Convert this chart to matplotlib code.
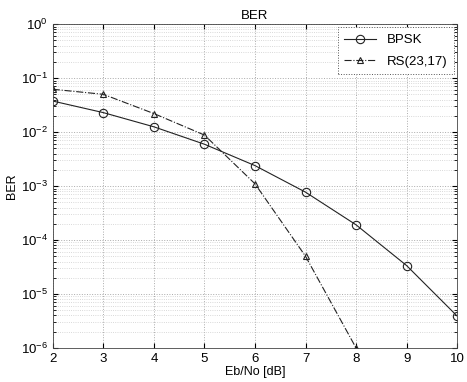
import numpy as np
import matplotlib; matplotlib.use("Agg")
import matplotlib.pyplot as plt
from matplotlib.ticker import NullFormatter
matplotlib.rcParams.update({"font.family":"sans-serif","font.sans-serif":["Liberation Sans","Arial","DejaVu Sans"],"font.size":9})

# values
ebno=[2,3,4,5,6,7,8,9,10]
ber_bpsk=[3.75e-2,2.29e-2,1.25e-2,5.95e-3,2.39e-3,7.7e-4,1.91e-4,3.36e-5,3.9e-6]
ebno_rs=[2,3,4,5,6,7,8]
ber_rs=[6.2e-2,5.0e-2,2.2e-2,8.8e-3,1.1e-3,5.0e-5,1.0e-6]
decades=[1e-6,1e-5,1e-4,1e-3,1e-2,1e-1,1e0]

fig=plt.figure(figsize=(4.67,3.82),dpi=100)
ax=fig.add_axes([0.113,0.089,0.866,0.848])
ax.semilogy(ebno,ber_bpsk,"-o",color="#222222",lw=0.8,ms=6,mfc="none",mew=0.8,label="BPSK")
ax.semilogy(ebno_rs,ber_rs,"-.^",color="#222222",lw=0.8,ms=4.5,mfc="none",mew=0.8,label="RS(23,17)")
ax.set_xlim(2,10); ax.set_ylim(1e-6,1)
ax.set_xticks(ebno)
ax.set_yticks(decades)
ax.set_yticks([d*k for d in decades[:-1] for k in range(2,10)],minor=True)
ax.yaxis.set_minor_formatter(NullFormatter())
ax.grid(which="major",ls=":",color="#aaaaaa",lw=0.7)
ax.grid(which="minor",axis="y",ls=":",color="#cccccc",lw=0.6)
ax.tick_params(which="both",direction="in",top=True,right=True,labelsize=9.5)
ax.tick_params(which="minor",length=2)
for s in ax.spines.values(): s.set_linewidth(0.6); s.set_color("#444444")
ax.set_title("BER",fontsize=9.5,pad=4)
ax.set_xlabel("Eb/No [dB]",fontsize=9,labelpad=1)
ax.set_ylabel("BER",fontsize=9,labelpad=2)
leg=ax.legend(loc="upper right",fontsize=9.5,fancybox=False,framealpha=1,borderpad=0.5,labelspacing=0.7,handlelength=2.4,borderaxespad=0.25)
leg.get_frame().set_edgecolor("#555555"); leg.get_frame().set_linestyle(":"); leg.get_frame().set_linewidth(0.7)
fig.savefig("out.png",dpi=100)
